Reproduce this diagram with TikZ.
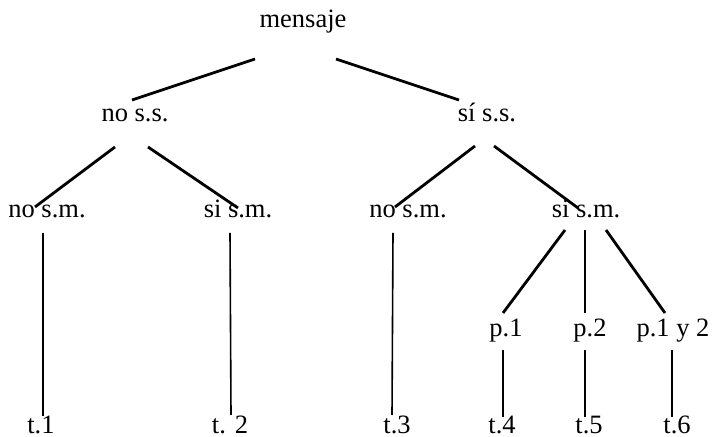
\documentclass[tikz,border=0pt]{standalone}
\usepackage{fontspec}
\setmainfont{Liberation Serif}
\usepackage{tikz}

\begin{document}
\begin{tikzpicture}[x=0.5pt, y=-0.5pt, lbl/.style={inner sep=0pt, anchor=base},
    edge/.style={line width=1.4pt}, stem/.style={line width=0.8pt},
    font={\fontsize{13.25}{16}\selectfont}]
    \useasboundingbox (0,0) rectangle (712,437);

    \node[lbl] (m) at (303,28) {mensaje};

    \node[lbl] (nss) at (135,122) {no s.s.};
    \node[lbl] (sss) at (487,122) {sí s.s.};

    \node[lbl] (nsm1) at (47,218) {no s.m.};
    \node[lbl] (ssm1) at (238,218) {si s.m.};
    \node[lbl] (nsm2) at (408,218) {no s.m.};
    \node[lbl] (ssm2) at (586,218) {si s.m.};

    \node[lbl] (p1) at (506,337) {p.1};
    \node[lbl] (p2) at (590,337) {p.2};
    \node[lbl] (p12) at (673,337) {p.1 y 2};

    \node[lbl] (t1) at (41,434) {t.1};
    \node[lbl] (t2) at (230,434) {t. 2};
    \node[lbl] (t3) at (397,434) {t.3};
    \node[lbl] (t4) at (502,434) {t.4};
    \node[lbl] (t5) at (589,434) {t.5};
    \node[lbl] (t6) at (677,434) {t.6};

    \draw[edge] ([shift={(-48,31)}]m.base) -- ([shift={(-3,-22)}]nss.base);
    \draw[edge] ([shift={(33,31)}]m.base) -- ([shift={(-28,-22)}]sss.base);

    \draw[edge] ([shift={(-20,25)}]nss.base) -- ([shift={(-12,-11)}]nsm1.base);
    \draw[edge] ([shift={(13,25)}]nss.base) -- ([shift={(0,-10)}]ssm1.base);
    \draw[edge] ([shift={(-12,24)}]sss.base) -- ([shift={(-13,-11)}]nsm2.base);
    \draw[edge] ([shift={(7,24)}]sss.base) -- ([shift={(-8,-10)}]ssm2.base);

    \draw[stem] ([shift={(-4,15)}]nsm1.base) -- ([shift={(2,-18)}]t1.base);
    \draw[stem] ([shift={(-8,15)}]ssm1.base) -- ([shift={(1,-19)}]t2.base);
    \draw[stem] ([shift={(-15,15)}]nsm2.base) -- ([shift={(-5,-19)}]t3.base);

    \draw[edge] ([shift={(-21,12)}]ssm2.base) -- ([shift={(-3,-24)}]p1.base);
    \draw[stem, line width=1pt] ([shift={(-1,12)}]ssm2.base) -- ([shift={(-5,-24)}]p2.base);
    \draw[edge] ([shift={(20,12)}]ssm2.base) -- ([shift={(-8,-24)}]p12.base);

    \draw[stem, line width=1pt] ([shift={(-3,13)}]p1.base) -- ([shift={(1,-17)}]t4.base);
    \draw[stem, line width=1pt] ([shift={(-5,13)}]p2.base) -- ([shift={(-4,-17)}]t5.base);
    \draw[stem, line width=1pt] ([shift={(-1,13)}]p12.base) -- ([shift={(-5,-17)}]t6.base);
\end{tikzpicture}
\end{document}
